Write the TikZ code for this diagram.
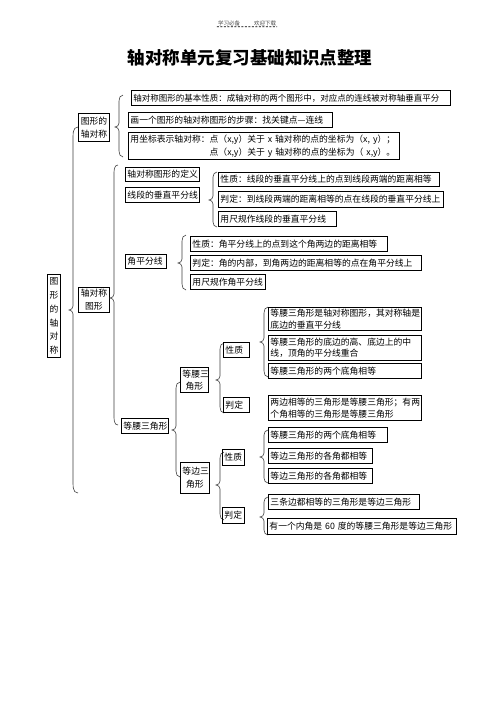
\documentclass[tikz,border=0pt]{standalone}
\usepackage{fontspec}
\newfontfamily\cjk{Noto Sans CJK SC}
\tikzset{
  bx/.style={draw, line width=0.9pt, anchor=north west, inner xsep=2pt, inner ysep=0pt, align=left,
    font=\cjk\fontsize{8.8}{12}\selectfont},
  brc/.style={line width=0.6pt, draw=black!75},
}
\newcommand\bxn[7][]{\pgfmathsetmacro\tw{#5-#3-5}\pgfmathsetmacro\th{#6-#4}%
  \node[bx,text width=\tw pt,minimum height=\th pt,#1] (#2) at (#3,#4) {#7};}
% x, top y, tip y, bottom y, hook, radius
\newcommand\brk[6]{\draw[brc] (#1+#5,#2) to[out=180,in=90] (#1,#2+#6) -- (#1,#3-4)
  to[out=-90,in=0] (#1-4,#3) to[out=0,in=90] (#1,#3+4) -- (#1,#4-#6) to[out=-90,in=180] (#1+#5,#4);}
\begin{document}
\begin{tikzpicture}[x=1pt,y=-1pt]
\useasboundingbox (0,0) rectangle (496,702);
\fill[white] (0,0) rectangle (496,702);
% header
\node[font=\cjk\fontsize{5.5}{6}\selectfont, text=black!70, inner sep=1pt] (h1) at (229,23) {学习必备};
\node[font=\cjk\fontsize{5.5}{6}\selectfont, text=black!70, inner sep=1pt] (h2) at (265,23) {欢迎下载};
\draw[dash pattern=on 2pt off 1.5pt, line width=0.6pt] (h1.south west) -- (h2.south east);
% title
\node[font=\cjk\bfseries\fontsize{17.5}{20}\selectfont] (title) at (250,58) {轴对称单元复习基础知识点整理};

% level 0
\bxn[align=center, text width=9pt, inner xsep=2pt, font=\cjk\fontsize{8.8}{13.8}\selectfont]{root}{47}{274}{62}{357}{图\\形\\的\\轴\\对\\称}
\brk{73}{127}{310}{493}{5}{14}

% branch 1
\bxn[align=center, font=\cjk\fontsize{8.8}{13}\selectfont]{gx}{78}{113}{110}{141}{图形的\\轴对称}
\brk{119}{95}{127}{157}{4}{6}
\bxn[font=\cjk\fontsize{8.5}{12}\selectfont]{a1}{131}{90}{451}{105}{轴对称图形的基本性质：成轴对称的两个图形中，对应点的连线被对称轴垂直平分}
\bxn{a2}{128}{112}{333}{127}{画一个图形的轴对称图形的步骤：找关键点—连线}
\bxn[font=\cjk\fontsize{8.8}{13}\selectfont]{a3}{128}{132}{400}{159}{用坐标表示轴对称：点（x,y）关于 x 轴对称的点的坐标为（x, y）；\\\phantom{用坐标表示轴对称：}点（x,y）关于 y 轴对称的点的坐标为（ x,y）。}

% branch 2
\bxn[align=center, font=\cjk\fontsize{8.8}{13}\selectfont]{zt}{78}{287}{110}{312}{轴对称\\图形}
\brk{114}{165}{298}{425}{4}{10}
\bxn{b1}{125}{167}{200}{181}{轴对称图形的定义}
\bxn{b2}{125}{187}{200}{202}{线段的垂直平分线}
\brk{213}{172}{200}{227}{4}{5}
\bxn{b21}{218}{172}{440}{186}{性质：线段的垂直平分线上的点到线段两端的距离相等}
\bxn{b22}{218}{191}{444}{207}{判定：到线段两端的距离相等的点在线段的垂直平分线上}
\bxn{b23}{218}{211}{337}{226}{用尺规作线段的垂直平分线}

\bxn{c}{125}{254}{167}{268}{角平分线}
\brk{182}{235}{263}{290}{4}{6}
\bxn{c1}{190}{236}{388}{251}{性质：角平分线上的点到这个角两边的距离相等}
\bxn{c2}{190}{255}{422}{270}{判定：角的内部，到角两边的距离相等的点在角平分线上}
\bxn{c3}{190}{274}{266}{289}{用尺规作角平分线}

\bxn{d}{121}{418}{169}{433}{等腰三角形}
\brk{176}{382}{430}{477}{4}{6}

% isosceles
\bxn[align=center, font=\cjk\fontsize{8.8}{12.5}\selectfont]{e}{180}{367}{209}{392}{等腰三\\角形}
\brk{220}{343}{380}{413}{4}{6}
\bxn{ep}{223}{342}{250}{357}{性质}
\bxn{ej}{223}{397}{250}{412}{判定}
\brk{264}{307}{342}{377}{4}{6}
\bxn[font=\cjk\fontsize{8.8}{11.5}\selectfont]{ep1}{268}{307}{422}{330}{等腰三角形是轴对称图形，其对称轴是\\底边的垂直平分线}
\bxn[font=\cjk\fontsize{8.8}{11.5}\selectfont]{ep2}{268}{335}{422}{360}{等腰三角形的底边的高、底边上的中\\线，顶角的平分线重合}
\bxn{ep3}{268}{363}{422}{378}{等腰三角形的两个底角相等}
\bxn[font=\cjk\fontsize{8.8}{11.5}\selectfont]{ej1}{268}{395}{422}{420}{两边相等的三角形是等腰三角形；有两\\个角相等的三角形是等腰三角形}

% equilateral
\bxn[align=center, font=\cjk\fontsize{8.8}{13}\selectfont]{f}{180}{462}{210}{493}{等边三\\角形}
\brk{220}{452}{485}{520}{4}{6}
\bxn{fp}{222}{449}{245}{465}{性质}
\bxn{fj}{222}{507}{245}{523}{判定}
\brk{264}{430}{457}{483}{4}{5}
\bxn{fp1}{268}{427}{388}{442}{等腰三角形的两个底角相等}
\bxn{fp2}{268}{448}{373}{463}{等边三角形的各角都相等}
\bxn{fp3}{268}{468}{373}{483}{等边三角形的各角都相等}
\brk{264}{497}{517}{535}{4}{5}
\bxn{fj1}{268}{494}{420}{509}{三条边都相等的三角形是等边三角形}
\bxn{fj2}{267}{518}{457}{534}{有一个内角是 60 度的等腰三角形是等边三角形}
\end{tikzpicture}
\end{document}
